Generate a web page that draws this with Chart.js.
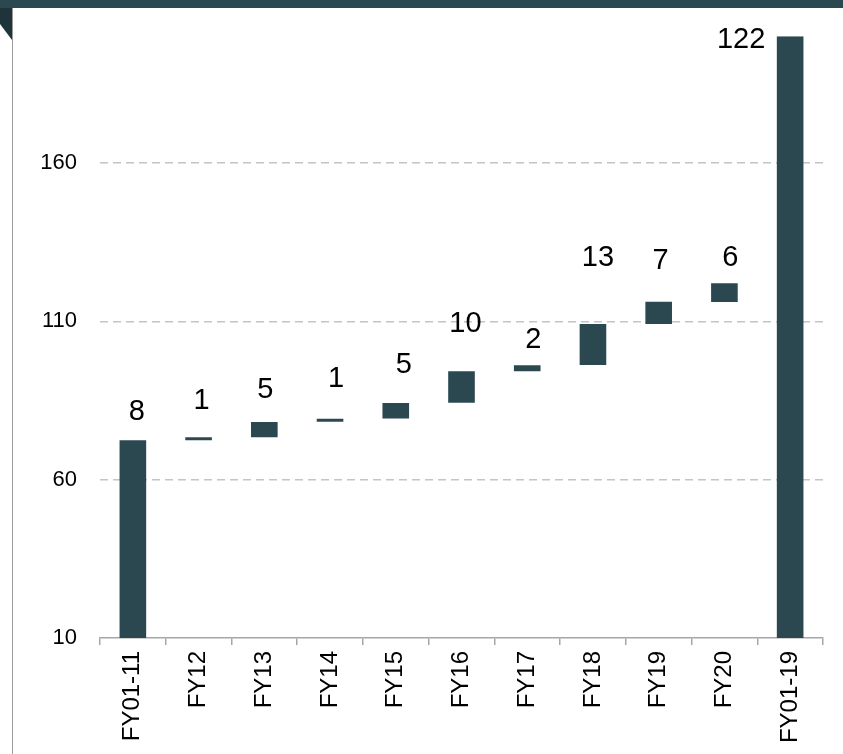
<!DOCTYPE html>
<html>
<head>
<meta charset="utf-8">
<script src="https://cdn.jsdelivr.net/npm/chart.js@4/dist/chart.umd.min.js"></script>
<style>
  html, body { margin: 0; padding: 0; background: #fff; }
  #wrap { position: relative; width: 843px; height: 754px; overflow: hidden; background: #fff; }
  #c { position: absolute; left: 0; top: 0; }
  #header { position: absolute; left: 0; top: 0; width: 843px; height: 8px; background: #2b4850; }
  #corner { position: absolute; left: 0; top: 8px; width: 12px; height: 32px; background: #1f343a;
            clip-path: polygon(0 0, 100% 0, 100% 100%, 0 50%); }
  #vline { position: absolute; left: 12px; top: 8px; width: 1px; height: 746px; background: #9a9a9a; }
</style>
</head>
<body>
<div id="wrap">
  <canvas id="c" width="843" height="754"></canvas>
  <div id="header"></div>
  <div id="corner"></div>
  <div id="vline"></div>
</div>
<script>
const categories = ['FY01-11','FY12','FY13','FY14','FY15','FY16','FY17','FY18','FY19','FY20','FY01-19'];
const barStart   = [10, 72.4, 73.4, 78.3, 79.3, 84.3, 94.2, 96.2, 109.1, 116.1, 10];
const barEnd     = [72.4, 73.4, 78.2, 79.2, 84.2, 94.2, 96.1, 109.1, 116.2, 122.0, 200];
const valueLabels = ['8','1','5','1','5','10','2','13','7','6','122'];
const yTicks = [10, 60, 110, 160];

const BAR = '#2b4850';
const FONT = "'Liberation Sans', Arial, sans-serif";

// pixel offsets of each value label relative to bar top-centre (style only)
const labelOffsets = [[4,-28],[3,-36],[1,-32],[6,-40],[8,-38],[4,-47],[6,-25],[5,-66],[2,-41],[6,-25],[-49,4]];

const labelPlugin = {
  id: 'valueLabels',
  afterDatasetsDraw(chart) {
    const ctx = chart.ctx;
    const meta = chart.getDatasetMeta(0);
    ctx.save();
    ctx.font = '29px ' + FONT;
    ctx.fillStyle = '#000';
    ctx.textAlign = 'center';
    ctx.textBaseline = 'middle';
    meta.data.forEach((bar, i) => {
      const off = labelOffsets[i];
      const top = Math.min(bar.y, bar.base);
      ctx.fillText(valueLabels[i], bar.x + off[0], top + off[1]);
    });
    ctx.restore();
  }
};

new Chart(document.getElementById('c'), {
  type: 'bar',
  data: {
    labels: categories,
    datasets: [{
      data: categories.map((_, i) => [barStart[i], barEnd[i]]),
      backgroundColor: BAR,
      borderWidth: 0,
      borderSkipped: false,
      barPercentage: 0.405,
      categoryPercentage: 1.0
    }]
  },
  options: {
    responsive: false,
    animation: false,
    devicePixelRatio: 1,
    layout: { padding: { top: 35, right: 20, left: 0, bottom: 0 } },
    plugins: { legend: { display: false }, tooltip: { enabled: false }, title: { display: false } },
    scales: {
      x: {
        grid: { display: true, drawOnChartArea: false, drawTicks: true, tickLength: 7, color: '#a6a6a6', lineWidth: 1.5, offset: true },
        border: { display: true, color: '#a6a6a6', width: 1.5 },
        ticks: { minRotation: 90, maxRotation: 90, autoSkip: false, padding: 6, color: '#000', font: { family: FONT, size: 24 } },
        afterFit(scale) { scale.height = 116; }
      },
      y: {
        min: 10, max: 200,
        afterBuildTicks(scale) { scale.ticks = yTicks.map(v => ({ value: v })); },
        grid: {
          drawTicks: false,
          color: (c) => (c.tick && c.tick.value === 10) ? 'rgba(0,0,0,0)' : '#c4c4c4',
          lineWidth: 1.5
        },
        border: { display: false, dash: [8, 5] },
        ticks: { padding: 23, color: '#000', font: { family: FONT, size: 22 } },
        afterFit(scale) { scale.width = 100; }
      }
    }
  },
  plugins: [labelPlugin]
});
</script>
</body>
</html>
